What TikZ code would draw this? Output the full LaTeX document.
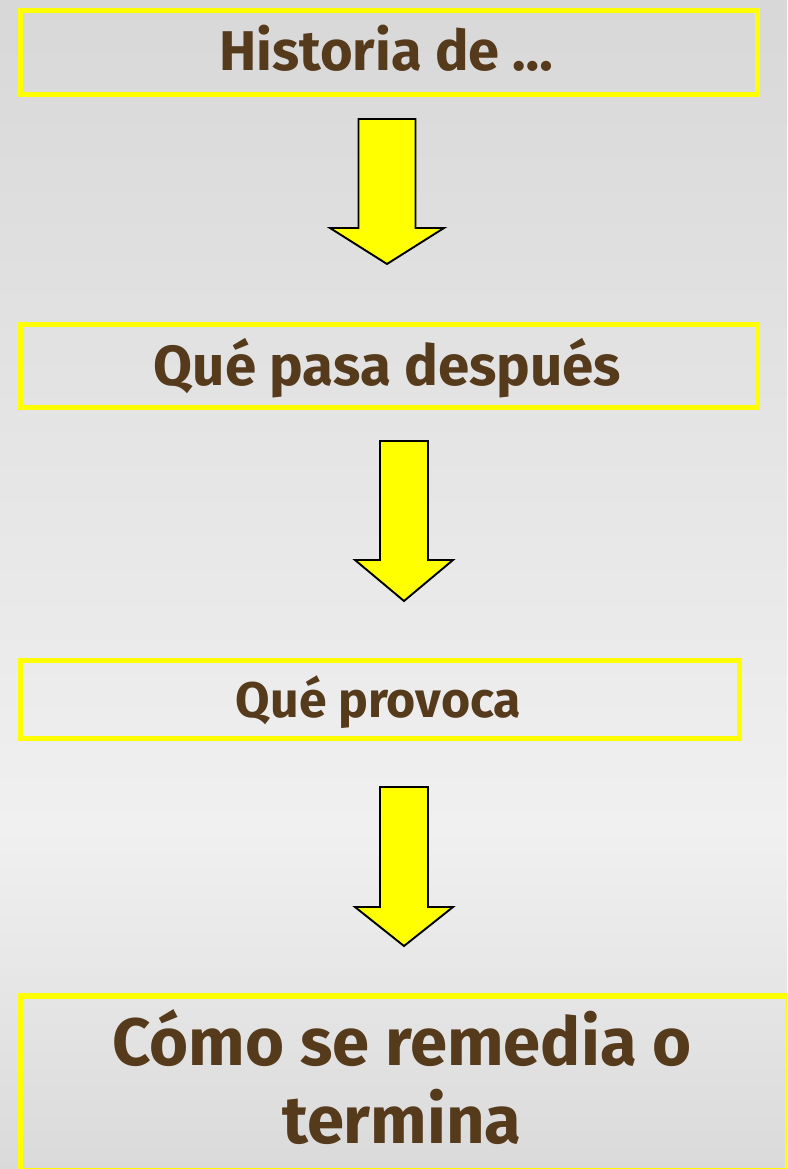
\documentclass[tikz,border=0pt]{standalone}
\usepackage{fontspec}
\setmainfont{Fira Sans}
\definecolor{txtbrown}{HTML}{563A1C}
\definecolor{bgtop}{HTML}{D8D8D8}
\definecolor{bgmid}{HTML}{F0F0F0}
\definecolor{bgbot}{HTML}{DADADA}
\definecolor{ylw}{HTML}{FFFF00}
\tikzset{
  ybox/.style={draw=ylw, line width=5.5pt, rectangle, inner sep=0pt},
  lbl/.style={text=txtbrown, anchor=base},
  blockarrow/.style={draw=black, fill=ylw, line width=1.9pt, line join=miter}
}
\begin{document}
\begin{tikzpicture}[x=1pt,y=-1pt]
\useasboundingbox (0,0) rectangle (787,1169);
\clip (0,0) rectangle (787,1169);
\shade[top color=bgtop, bottom color=bgmid] (0,0) rectangle (787,830);
\shade[top color=bgmid, bottom color=bgbot] (0,830) rectangle (787,1169);

\node[ybox, minimum width=737pt, minimum height=84pt] (b1) at (389,52.5) {};
\node[lbl, font=\bfseries\fontsize{56}{66}\selectfont] (t1) at (386.5,71) {Historia de \ldots};

\node[ybox, minimum width=737pt, minimum height=83pt] (b2) at (389,366) {};
\node[lbl, font=\bfseries\fontsize{56.5}{66}\selectfont] (t2) at (387.5,385) {Qué pasa después};

\node[ybox, minimum width=719pt, minimum height=78pt] (b3) at (380,699.5) {};
\node[lbl, font=\bfseries\fontsize{50}{60}\selectfont] (t3) at (378.5,717) {Qué provoca};

\node[ybox, minimum width=767.5pt, minimum height=175pt] (b4) at (404,1083.5) {};
\node[lbl, font=\bfseries\fontsize{67}{78}\selectfont] (t4a) at (402,1065) {Cómo se remedia o};
\node[lbl, font=\bfseries\fontsize{67}{78}\selectfont] (t4b) at (402,1143) {termina};

\coordinate (a1) at (387,119);
\coordinate (a2) at (404,441);
\coordinate (a3) at (404,787);

\draw[blockarrow] (a1) ++(-28.5,0) -- ++(57,0) -- ++(0,109) -- ++(28.5,0) -- (387,264) -- (330,228) -- (358.5,228) -- cycle;
\draw[blockarrow] (a2) ++(-24,0) -- ++(48,0) -- ++(0,119) -- ++(25,0) -- (404,601) -- (355,560) -- (380,560) -- cycle;
\draw[blockarrow] (a3) ++(-24,0) -- ++(48,0) -- ++(0,120) -- ++(25,0) -- (404,946) -- (355,907) -- (380,907) -- cycle;
\end{tikzpicture}
\end{document}
